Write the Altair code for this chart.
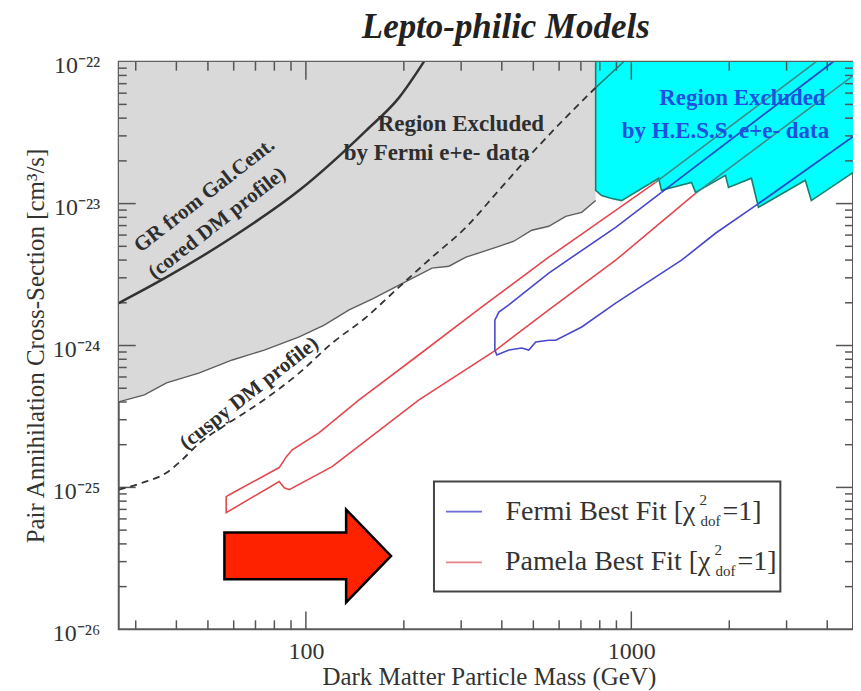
import altair as alt
import pandas as pd

FONT = "Liberation Serif"
W, H = 736, 569

# ---------------- axes ----------------
X_DOMAIN = [26.6, 4800]
Y_DOMAIN = [1e-26, 1e-22]
x_major = [100, 1000]
x_minor = [30, 40, 50, 60, 70, 80, 90, 200, 300, 400, 500, 600, 700, 800, 900, 2000, 3000, 4000]
y_exponents = [-26, -25, -24, -23, -22]
y_minor_digits = [2, 3, 4, 5, 6, 7, 8, 9]

# ---------------- data (GeV, cm^3/s) ----------------
# lower edge of region excluded by Fermi e+e- data (gray)
fermi_excl_mass = [26.6, 31.9, 37.3, 47.1, 59.4, 74.5, 95.4, 113.8, 135.8, 162.0, 193.3, 244.1,
                   275.2, 310.3, 391.7, 435.5, 494.4, 557.6, 628.7, 704.0, 777.1]
fermi_excl_sigma = [4.01e-25, 4.49e-25, 5.45e-25, 6.41e-25, 7.91e-25, 9.29e-25, 1.15e-24, 1.39e-24,
                    1.78e-24, 2.16e-24, 2.66e-24, 3.51e-24, 3.62e-24, 4.19e-24, 5.00e-24, 5.43e-24,
                    6.49e-24, 6.92e-24, 8.13e-24, 8.68e-24, 1.05e-23]

# lower edge of region excluded by H.E.S.S. e+e- data (cyan)
hess_mass = [777.1, 810.7, 864.5, 933.9, 1213, 1238, 1531, 1575, 1947, 1989, 2339, 2458, 3425, 3574, 4808]
hess_sigma = [1.24e-23, 1.14e-23, 1.09e-23, 1.05e-23, 1.51e-23, 1.24e-23, 1.41e-23, 1.20e-23,
              1.58e-23, 1.30e-23, 1.51e-23, 9.42e-24, 1.46e-23, 1.05e-23, 1.66e-23]

# GR from Gal. Cent. (cored DM profile)
gr_mass = [26.6, 37.3, 59.4, 95.4, 153.1, 193.3, 230.6]
gr_sigma = [1.99e-24, 3.03e-24, 5.79e-24, 1.24e-23, 3.27e-23, 5.58e-23, 1.0e-22]

# cuspy DM profile (dashed)
cuspy_mass = [26.6, 31.5, 37.3, 41.7, 47.1, 55.4, 67.0, 95.4, 120.4, 153.1, 193.3, 244.1,
              310.3, 391.7, 494.4, 628.7, 777.1]
cuspy_sigma = [9.64e-26, 1.08e-25, 1.27e-25, 1.57e-25, 2.06e-25, 2.67e-25, 3.52e-25, 6.41e-25,
               1.04e-24, 1.58e-24, 2.58e-24, 4.19e-24, 6.80e-24, 1.24e-23, 2.26e-23, 4.04e-23, 6.56e-23]
cuspy_cont_mass = [777.1, 947.2]
cuspy_cont_sigma = [6.56e-23, 1.0e-22]

# Pamela best fit band
pamela_upper_mass = [56.9, 58.2, 82.8, 87.0, 90.8, 109.9, 145.7, 218.0, 347.4, 557.6, 895.2, 1187]
pamela_upper_sigma = [8.61e-26, 8.89e-26, 1.38e-25, 1.64e-25, 1.84e-25, 2.43e-25, 4.14e-25, 8.30e-25,
                      1.87e-24, 4.19e-24, 8.97e-24, 1.41e-23]
pamela_lower_mass = [56.9, 82.8, 85.8, 88.9, 120.4, 222.6, 383.5, 557.6, 895.2, 1575]
pamela_lower_sigma = [6.64e-26, 1.10e-25, 9.95e-26, 9.64e-26, 1.40e-25, 4.14e-25, 9.29e-25, 1.78e-24,
                      3.99e-24, 1.18e-23]
pamela_upper_cont_mass = [1187, 3702]
pamela_upper_cont_sigma = [1.41e-23, 1.0e-22]
pamela_lower_cont_mass = [1575, 4808]
pamela_lower_cont_sigma = [1.18e-23, 7.97e-23]

# Fermi best fit band
fermi_upper_mass = [380.8, 391.7, 420.3, 557.6, 895.2, 1238]
fermi_upper_sigma = [1.51e-24, 1.72e-24, 1.93e-24, 3.24e-24, 6.80e-24, 1.20e-23]
fermi_lower_mass = [380.8, 386.2, 420.3, 460.8, 484.0, 508.6, 557.6, 586.0, 704.0, 895.2, 1427, 1814, 2458]
fermi_lower_sigma = [9.29e-25, 8.57e-25, 9.29e-25, 9.60e-25, 9.29e-25, 1.06e-24, 1.09e-24, 1.09e-24,
                     1.35e-24, 1.99e-24, 3.99e-24, 6.18e-24, 1.00e-23]
fermi_upper_cont_mass = [1238, 4174]
fermi_upper_cont_sigma = [1.20e-23, 1.0e-22]
fermi_lower_cont_mass = [2458, 4808]
fermi_lower_cont_sigma = [1.00e-23, 2.97e-23]

# annotations
curve_labels = ["GR from Gal.Cent.", "(cored DM profile)", "(cuspy DM profile)"]
curve_label_mass = [48.8, 53.4, 67.0]
curve_label_sigma = [1.14e-23, 7.26e-24, 4.6e-25]
fermi_region_labels = ["Region Excluded", "by Fermi e+e- data"]
fermi_region_mass = [299.5, 252.0]
fermi_region_sigma = [3.66e-23, 2.26e-23]
hess_region_labels = ["Region Excluded", "by H.E.S.S. e+e- data"]
hess_region_mass = [2195, 1947]
hess_region_sigma = [5.58e-23, 3.27e-23]

# legend
legend_series = ["Fermi Best Fit [χ", "Pamela Best Fit [χ"]
legend_row_sigma = [6.75e-26, 2.96e-26]
legend_text_end_mass = [1575, 1751]
legend_line_mass = [269.4, 347.4]
legend_box_mass = [247.5, 2871]
legend_box_sigma = [1.85e-26, 1.10e-25]

# arrow marker
arrow_mass = [101.3]
arrow_sigma = [3.29e-26]

RED = "#e3474f"
BLUE = "#4848cc"
RED_IN = "#3f8a88"
BLUE_IN = "#1c4cc8"
TEAL = "#16806f"
TICK = "#555555"
TXT = "#2e2e2e"

SUP = str.maketrans("-0123456789", "⁻⁰¹²³⁴⁵⁶⁷⁸⁹")
y_label_expr = "".join(
    f"round(log(datum.value)/LN10) == {e} ? '10{str(e).translate(SUP)}' : " for e in y_exponents
) + "''"

X_AXIS = alt.Axis(values=x_major, format="d", title="Dark Matter Particle Mass (GeV)",
                  grid=False, ticks=False, tickSize=0, domain=False,
                  labelFont=FONT, labelFontSize=24, labelColor="#333", labelPadding=22,
                  labelBaseline="middle",
                  titleFont=FONT, titleFontSize=25, titleFontWeight="normal", titleColor="#333",
                  titleX=371, titleY=47, titleBaseline="middle", titleAlign="center")
Y_AXIS = alt.Axis(values=[10.0 ** e for e in y_exponents], labelExpr=y_label_expr,
                  title="Pair Annihilation Cross-Section [cm³/s]",
                  grid=False, ticks=False, tickSize=0, domain=False,
                  labelFont=FONT, labelFontSize=24, labelColor="#333", labelPadding=19,
                  labelBaseline="middle", labelOffset=4,
                  titleFont=FONT, titleFontSize=25, titleFontWeight="normal", titleColor="#333",
                  titleX=-83, titleY=H / 2, titleBaseline="middle", titleAlign="center", titleAngle=270)


def xs(field="mass"):
    return alt.X(f"{field}:Q", scale=alt.Scale(type="log", domain=X_DOMAIN), axis=X_AXIS)


def ys(field="sigma"):
    return alt.Y(f"{field}:Q", scale=alt.Scale(type="log", domain=Y_DOMAIN), axis=Y_AXIS)


top = Y_DOMAIN[1]

# regions
gray_df = pd.DataFrame({"mass": fermi_excl_mass, "sigma": fermi_excl_sigma, "top": top})
gray_area = alt.Chart(gray_df).mark_area(color="#d9d9d9", clip=True).encode(
    x=xs(), y=ys(), y2="top")
gray_edge = alt.Chart(gray_df).mark_line(color="#5e5e5e", strokeWidth=1.4, clip=True).encode(
    x=xs(), y=ys())

hess_df = pd.DataFrame({"mass": hess_mass, "sigma": hess_sigma, "top": top})
hess_area = alt.Chart(hess_df).mark_area(color="#00ffff", opacity=1, clip=True).encode(
    x=xs(), y=ys(), y2="top")
hess_outline_df = pd.DataFrame({"mass": [hess_mass[0]] + hess_mass, "sigma": [top] + hess_sigma})
hess_outline_df["order"] = range(len(hess_outline_df))
hess_outline = alt.Chart(hess_outline_df).mark_line(color=TEAL, strokeWidth=1.6, clip=True).encode(
    x=xs(), y=ys(), order="order:Q")

# ticks (inward, all four sides)
y_major_vals = [10.0 ** e for e in y_exponents[1:-1]]
y_minor_vals = [d * 10.0 ** e for e in y_exponents[:-1] for d in y_minor_digits]


def tick_df(vals):
    return pd.DataFrame({"mass": vals, "sigma": vals})


tick_layers = []
for vals, L in [(x_major, 18), (x_minor, 9)]:
    tick_layers.append(alt.Chart(tick_df(vals)).mark_rule(color=TICK, strokeWidth=1.5).encode(
        x=xs(), y=alt.value(H), y2=alt.value(H - L)))
    tick_layers.append(alt.Chart(tick_df(vals)).mark_rule(color=TICK, strokeWidth=1.5).encode(
        x=xs(), y=alt.value(0), y2=alt.value(L)))
for vals, L in [(y_major_vals, 17), (y_minor_vals, 8)]:
    tick_layers.append(alt.Chart(tick_df(vals)).mark_rule(color=TICK, strokeWidth=1.5).encode(
        y=ys(), x=alt.value(0), x2=alt.value(L)))
    tick_layers.append(alt.Chart(tick_df(vals)).mark_rule(color=TICK, strokeWidth=1.5).encode(
        y=ys(), x=alt.value(W), x2=alt.value(W - L)))

# curves
gr_line = alt.Chart(pd.DataFrame({"mass": gr_mass, "sigma": gr_sigma})).mark_line(
    color="#333", strokeWidth=2.5, interpolate="monotone", clip=True).encode(x=xs(), y=ys())
cuspy_line = alt.Chart(pd.DataFrame({"mass": cuspy_mass, "sigma": cuspy_sigma})).mark_line(
    color="#333", strokeWidth=1.8, strokeDash=[7, 5], interpolate="monotone", clip=True).encode(x=xs(), y=ys())
cuspy_cont = alt.Chart(pd.DataFrame({"mass": cuspy_cont_mass, "sigma": cuspy_cont_sigma})).mark_line(
    color=TEAL, strokeWidth=1.5, clip=True).encode(x=xs(), y=ys())


def band_path(up_m, up_s, lo_m, lo_s):
    d = pd.DataFrame({"mass": up_m[::-1] + lo_m, "sigma": up_s[::-1] + lo_s})
    d["order"] = range(len(d))
    return d


pam_band = alt.Chart(band_path(pamela_upper_mass, pamela_upper_sigma, pamela_lower_mass, pamela_lower_sigma)
                     ).mark_line(color=RED, strokeWidth=1.6, clip=True).encode(x=xs(), y=ys(), order="order:Q")
fer_band = alt.Chart(band_path(fermi_upper_mass, fermi_upper_sigma, fermi_lower_mass, fermi_lower_sigma)
                     ).mark_line(color=BLUE, strokeWidth=1.6, clip=True).encode(x=xs(), y=ys(), order="order:Q")


def cont_df(pairs):
    rows = []
    for i, (m, s) in enumerate(pairs):
        for mm, ss in zip(m, s):
            rows.append({"mass": mm, "sigma": ss, "seg": i})
    return pd.DataFrame(rows)


pam_cont = alt.Chart(cont_df([(pamela_upper_cont_mass, pamela_upper_cont_sigma),
                              (pamela_lower_cont_mass, pamela_lower_cont_sigma)])).mark_line(
    color=RED_IN, strokeWidth=1.6, clip=True).encode(x=xs(), y=ys(), detail="seg:N")
fer_cont = alt.Chart(cont_df([(fermi_upper_cont_mass, fermi_upper_cont_sigma),
                              (fermi_lower_cont_mass, fermi_lower_cont_sigma)])).mark_line(
    color=BLUE_IN, strokeWidth=1.8, clip=True).encode(x=xs(), y=ys(), detail="seg:N")

# annotations
curve_txt = alt.Chart(pd.DataFrame({"mass": curve_label_mass, "sigma": curve_label_sigma,
                                    "label": curve_labels})).mark_text(
    font=FONT, fontSize=21, fontWeight="bold", color=TXT, angle=322, align="center", baseline="middle"
).encode(x=xs(), y=ys(), text="label:N")
fermi_txt = alt.Chart(pd.DataFrame({"mass": fermi_region_mass, "sigma": fermi_region_sigma,
                                    "label": fermi_region_labels})).mark_text(
    font=FONT, fontSize=23, fontWeight="bold", color=TXT, align="center", baseline="middle"
).encode(x=xs(), y=ys(), text="label:N")
hess_txt = alt.Chart(pd.DataFrame({"mass": hess_region_mass, "sigma": hess_region_sigma,
                                   "label": hess_region_labels})).mark_text(
    font=FONT, fontSize=23, fontWeight="bold", color="#1f4fe0", align="center", baseline="middle"
).encode(x=xs(), y=ys(), text="label:N")

# arrow
ARROW = "M -1 -0.281 L 0.461 -0.281 L 0.461 -0.557 L 1 0 L 0.461 0.557 L 0.461 0.281 L -1 0.281 Z"
arrow = alt.Chart(pd.DataFrame({"mass": arrow_mass, "sigma": arrow_sigma})).mark_point(
    shape=ARROW, size=27889, filled=True, fill="#ff2200", color="#ff2200", stroke="black",
    strokeWidth=2.5, opacity=1, fillOpacity=1, strokeOpacity=1
).encode(x=xs(), y=ys())

# legend
box = alt.Chart(pd.DataFrame({"mass": [legend_box_mass[0]], "m2": [legend_box_mass[1]],
                              "sigma": [legend_box_sigma[0]], "s2": [legend_box_sigma[1]]})).mark_rect(
    fill="white", stroke="#444", strokeWidth=2).encode(x=xs(), x2="m2", y=ys(), y2="s2")
leg_df = pd.DataFrame({"series": legend_series, "sigma": legend_row_sigma,
                       "mass": legend_line_mass[0], "m2": legend_line_mass[1]})
leg_lines = alt.Chart(leg_df).mark_rule(strokeWidth=1.8).encode(
    x=xs(), x2="m2", y=ys(),
    color=alt.Color("series:N", scale=alt.Scale(domain=legend_series, range=["#6a6ad6", "#e48484"]),
                    legend=None))
leg_txt_df = pd.DataFrame({"series": legend_series, "sigma": legend_row_sigma, "mass": legend_text_end_mass})
leg_main = alt.Chart(leg_txt_df).mark_text(font=FONT, fontSize=28, color="#333", align="right",
                                           baseline="middle").encode(x=xs(), y=ys(), text="series:N")
leg_sup = alt.Chart(leg_txt_df).mark_text(font=FONT, fontSize=15, color="#333", align="left",
                                          baseline="middle", dx=4, dy=-12, text="2").encode(x=xs(), y=ys())
leg_sub = alt.Chart(leg_txt_df).mark_text(font=FONT, fontSize=15, color="#333", align="left",
                                          baseline="middle", dx=5, dy=9, text="dof").encode(x=xs(), y=ys())
leg_end = alt.Chart(leg_txt_df).mark_text(font=FONT, fontSize=28, color="#333", align="left",
                                          baseline="middle", dx=27, text="=1]").encode(x=xs(), y=ys())

chart = alt.layer(
    gray_area, gray_edge, hess_area, hess_outline, *tick_layers,
    gr_line, cuspy_line, cuspy_cont, pam_band, fer_band, pam_cont, fer_cont,
    curve_txt, fermi_txt, hess_txt, box, leg_lines, leg_main, leg_sup, leg_sub, leg_end, arrow
).properties(
    width=W, height=H,
    title=alt.TitleParams("Lepto-philic Models", font=FONT, fontSize=35, fontWeight="bold",
                          fontStyle="italic", color="#222", anchor="middle", frame="group",
                          dx=20, offset=9),
    padding={"left": 111, "top": 53, "right": 0, "bottom": 61},
    autosize=alt.AutoSizeParams(type="none"),
).configure_view(stroke="#5a5a5a", strokeWidth=2)

chart.save("out.html", embed_options={"renderer": "svg", "actions": False})
